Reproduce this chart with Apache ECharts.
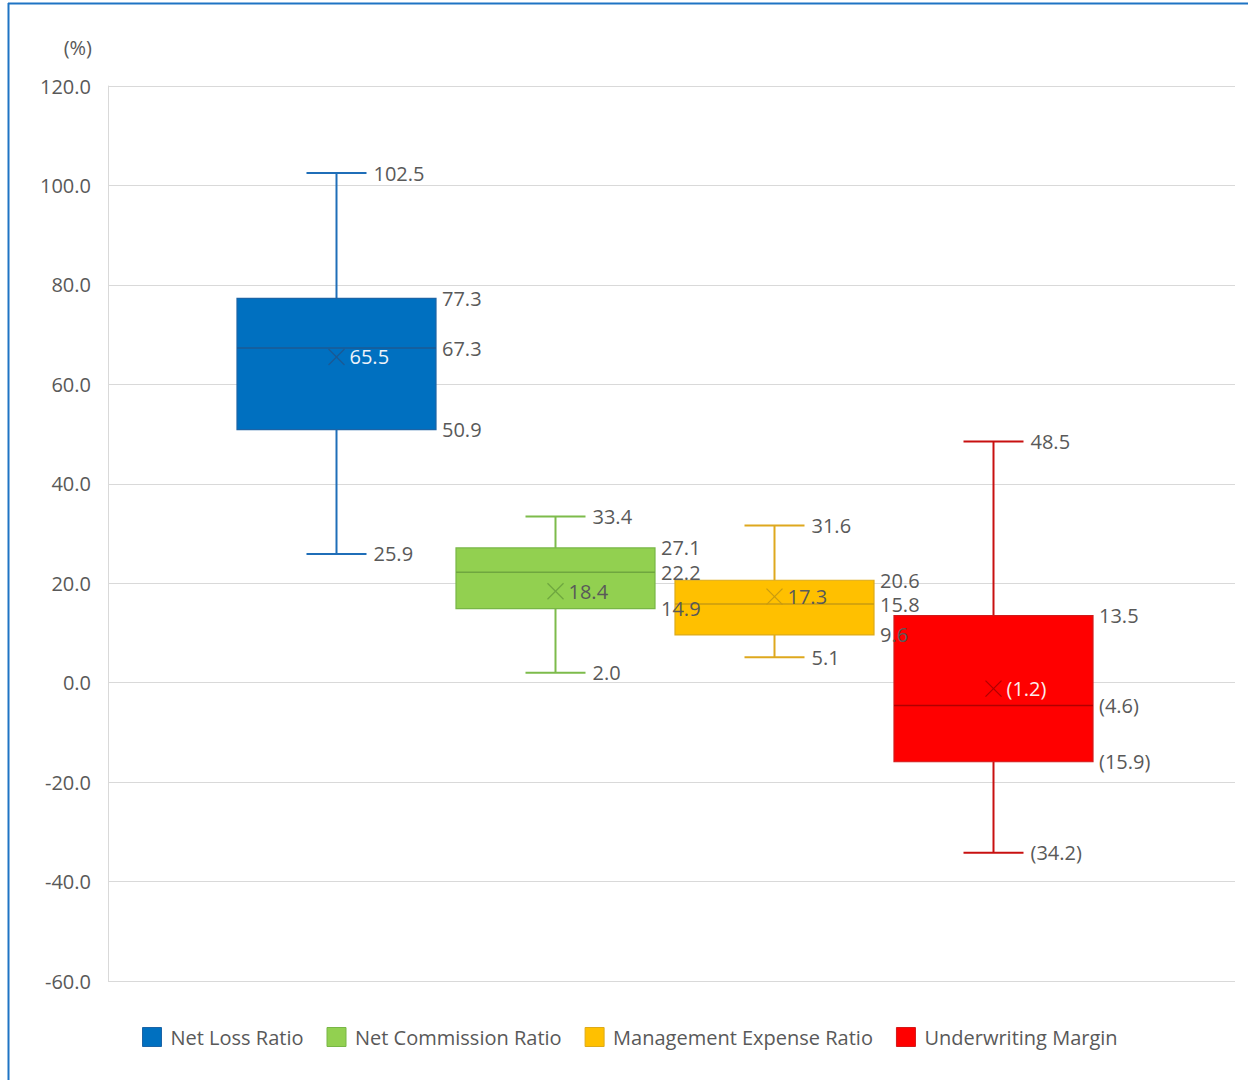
<!DOCTYPE html>
<html>
<head>
<meta charset="utf-8">
<script src="https://cdn.jsdelivr.net/npm/echarts@6/dist/echarts.min.js"></script>
<style>
html,body{margin:0;padding:0;background:#fff;}
#chart{width:1248px;height:1080px;}
</style>
</head>
<body>
<div id="chart"></div>
<script>
// ---- data ----
const seriesNames = ['Net Loss Ratio', 'Net Commission Ratio', 'Management Expense Ratio', 'Underwriting Margin'];
const minValues = [25.9, 2.0, 5.1, -34.2];
const q1Values = [50.9, 14.9, 9.6, -15.9];
const medianValues = [67.3, 22.2, 15.8, -4.6];
const q3Values = [77.3, 27.1, 20.6, 13.5];
const maxValues = [102.5, 33.4, 31.6, 48.5];
const meanValues = [65.5, 18.4, 17.3, -1.2];
const yMin = -60, yMax = 120, yInterval = 20;
const yUnit = '(%)';

// ---- styles ----
const FONT = '"Open Sans", "Noto Sans", sans-serif';
const FS = 20;
const TXT = '#595959';
const palette = [
  { fill: '#0070C0', border: '#1C64A6', whisker: '#1F6EB8', dark: '#1B5A94', meanText: '#EEF3FA' },
  { fill: '#92D050', border: '#78B646', whisker: '#7DBB4B', dark: '#6FA63F', meanText: TXT },
  { fill: '#FFC000', border: '#DDAA1A', whisker: '#DEA81E', dark: '#C99B10', meanText: TXT },
  { fill: '#FF0000', border: '#D21A1A', whisker: '#C81010', dark: '#B00000', meanText: '#FBECEC' }
];
const BOX_RATIO = 199 / 219;
const CAP_RATIO = 60 / 219;

function fmt(v) { return v < 0 ? '(' + Math.abs(v).toFixed(1) + ')' : v.toFixed(1); }

function rowOf(i) { return [i, minValues[i], q1Values[i], medianValues[i], q3Values[i], maxValues[i], meanValues[i]]; }

function geom(api) {
  const ci = api.value(0);
  const pt = k => api.coord([ci, api.value(k)]);
  const band = api.size([1, 0])[0];
  return {
    cx: Math.round(pt(1)[0]) + 0.5,
    yMin: pt(1)[1], yQ1: pt(2)[1], yMed: pt(3)[1], yQ3: pt(4)[1], yMax: pt(5)[1], yMean: pt(6)[1],
    bw: band * BOX_RATIO, cw: band * CAP_RATIO
  };
}

function boxRender(i) {
  const c = palette[i];
  return function (params, api) {
    const g = geom(api);
    const hb = g.bw / 2, hc = g.cw / 2, m = 8;
    const ws = { stroke: c.whisker, lineWidth: 2 };
    return {
      type: 'group',
      children: [
        { type: 'line', shape: { x1: g.cx, y1: g.yMax, x2: g.cx, y2: g.yQ3 }, style: ws },
        { type: 'line', shape: { x1: g.cx, y1: g.yQ1, x2: g.cx, y2: g.yMin }, style: ws },
        { type: 'line', shape: { x1: g.cx - hc, y1: g.yMax, x2: g.cx + hc, y2: g.yMax }, style: ws },
        { type: 'line', shape: { x1: g.cx - hc, y1: g.yMin, x2: g.cx + hc, y2: g.yMin }, style: ws },
        { type: 'rect', shape: { x: g.cx - hb, y: g.yQ3, width: g.bw, height: g.yQ1 - g.yQ3 },
          style: { fill: c.fill, stroke: c.border, lineWidth: 1.2 } },
        { type: 'line', shape: { x1: g.cx - hb, y1: g.yMed, x2: g.cx + hb, y2: g.yMed }, style: { stroke: c.dark, lineWidth: 1.5 } },
        { type: 'line', shape: { x1: g.cx - m, y1: g.yMean - m, x2: g.cx + m, y2: g.yMean + m }, style: { stroke: c.dark, lineWidth: 1.3 } },
        { type: 'line', shape: { x1: g.cx - m, y1: g.yMean + m, x2: g.cx + m, y2: g.yMean - m }, style: { stroke: c.dark, lineWidth: 1.3 } }
      ]
    };
  };
}

function labelRender(i) {
  const c = palette[i];
  return function (params, api) {
    const g = geom(api);
    const t = (x, y, v, color) => ({
      type: 'text', x: x, y: y,
      style: { text: fmt(v), fill: color || TXT, fontSize: FS, lineHeight: 20, fontFamily: FONT, align: 'left', verticalAlign: 'middle' }
    });
    const xBox = g.cx + g.bw / 2 + 6;
    const xCap = g.cx + g.cw / 2 + 7;
    return {
      type: 'group',
      children: [
        t(xCap, g.yMax, api.value(5)),
        t(xCap, g.yMin, api.value(1)),
        t(xBox, g.yQ3, api.value(4)),
        t(xBox, g.yMed, api.value(3)),
        t(xBox, g.yQ1, api.value(2)),
        t(g.cx + 13, g.yMean, api.value(6), c.meanText)
      ]
    };
  };
}

const series = [];
seriesNames.forEach(function (name, i) {
  series.push({
    name: name, type: 'custom', xAxisIndex: 1, yAxisIndex: 1, z: 2,
    itemStyle: { color: palette[i].fill, borderColor: palette[i].border },
    renderItem: boxRender(i),
    encode: { x: 0, y: [1, 2, 3, 4, 5, 6] },
    data: [rowOf(i)]
  });
});
seriesNames.forEach(function (name, i) {
  series.push({
    name: name + ' labels', type: 'custom', xAxisIndex: 1, yAxisIndex: 1, z: 5, silent: true,
    renderItem: labelRender(i),
    encode: { x: 0, y: [1, 2, 3, 4, 5, 6] },
    data: [rowOf(i)]
  });
});

const chart = echarts.init(document.getElementById('chart'), null, { renderer: 'svg' });
chart.setOption({
  animation: false,
  backgroundColor: '#ffffff',
  textStyle: { fontFamily: FONT },
  graphic: [
    { type: 'line', shape: { x1: 8, y1: 3.5, x2: 1248, y2: 3.5 }, style: { stroke: '#1F74C4', lineWidth: 2 } },
    { type: 'line', shape: { x1: 8.5, y1: 3, x2: 8.5, y2: 1080 }, style: { stroke: '#1F74C4', lineWidth: 2 } }
  ],
  grid: [
    { left: 108, right: 13, top: 86, bottom: 99 },
    { left: 226.5, right: 145.5, top: 86, bottom: 99 }
  ],
  xAxis: [
    { gridIndex: 0, type: 'category', data: [''], show: false },
    { gridIndex: 1, type: 'category', data: seriesNames, show: false }
  ],
  yAxis: [
    {
      gridIndex: 0, type: 'value', min: yMin, max: yMax, interval: yInterval,
      name: yUnit, nameLocation: 'end', nameGap: 39,
      nameTextStyle: { color: TXT, fontSize: FS, fontFamily: FONT, align: 'right', verticalAlign: 'middle', padding: [0, 16, 0, 0] },
      axisLine: { show: true, lineStyle: { color: '#D9D9D9', width: 1 } },
      axisTick: { show: false },
      axisLabel: { color: TXT, fontSize: FS, fontFamily: FONT, margin: 17, formatter: function (v) { return v.toFixed(1); } },
      splitLine: { show: true, lineStyle: { color: '#D9D9D9', width: 1 } }
    },
    { gridIndex: 1, type: 'value', min: yMin, max: yMax, interval: yInterval, show: false, splitLine: { show: false } }
  ],
  legend: {
    left: 142, top: 1027, padding: 0, icon: 'rect', itemWidth: 19, itemHeight: 19, itemGap: 23,
    textStyle: { color: TXT, fontSize: FS, fontFamily: FONT, padding: [0, 0, 0, 4] },
    data: seriesNames.map(function (n, i) {
      return { name: n, itemStyle: { color: palette[i].fill, borderColor: palette[i].border, borderWidth: 1 } };
    })
  },
  series: series
});
</script>
</body>
</html>
